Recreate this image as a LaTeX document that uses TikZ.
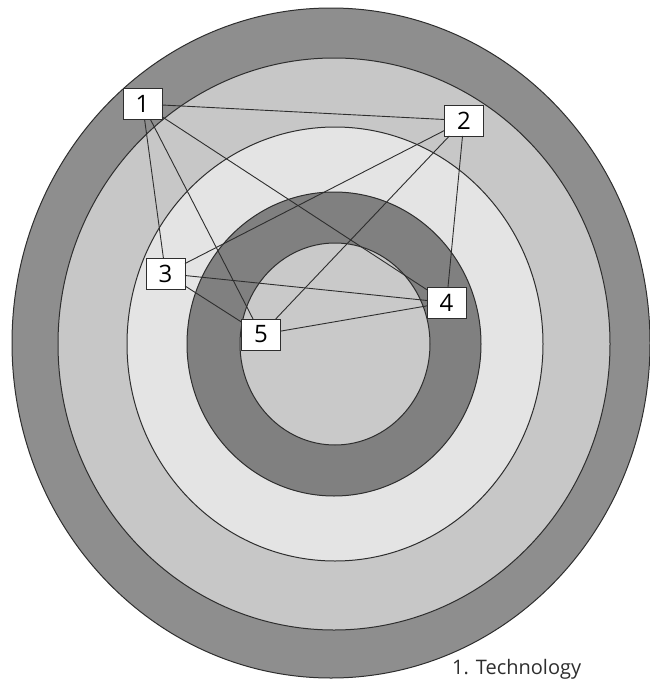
\documentclass[tikz,border=0pt]{standalone}
\usepackage{fontspec}
\setmainfont{Open Sans}
\usetikzlibrary{positioning}
\definecolor{Line}{HTML}{2E2E2E}
\definecolor{RingOuter}{HTML}{8E8E8E}
\definecolor{RingSoft}{HTML}{C7C7C7}
\definecolor{RingPale}{HTML}{E4E4E4}
\definecolor{RingDark}{HTML}{808080}
\definecolor{Core}{HTML}{C9C9C9}

\begin{document}
\begin{tikzpicture}[x=1pt,y=-1pt,
  ring/.style={draw=Line,line width=1pt},
  factor/.style={draw=Line,fill=white,line width=0.9pt,minimum width=39pt,minimum height=31pt,inner sep=0pt,outer sep=0pt,font=\fontsize{24}{26}\selectfont},
  link/.style={draw=Line,line width=0.9pt},
  caption/.style={inner sep=0pt,font=\fontsize{20}{24}\selectfont,text=Line}
]
\useasboundingbox (0,0) rectangle (650,680);
% rings, from the outside in
\draw[ring,fill=RingOuter] (331,343) ellipse [x radius=319pt, y radius=335pt];
\draw[ring,fill=RingSoft] (334,344) ellipse [x radius=276pt, y radius=286pt];
\draw[ring,fill=RingPale] (335,344) ellipse [x radius=208pt, y radius=217pt];
\draw[ring,fill=RingDark] (334,344) ellipse [x radius=147pt, y radius=152pt];
\draw[ring,fill=Core] (335,344) ellipse [x radius=95pt, y radius=101pt];
% factors
\node[factor] (n1) at (142.5,104) {1};
\node[factor] (n2) at (464,120.5) {2};
\node[factor] (n3) at (165.5,273.5) {3};
\node[factor] (n4) at (446.5,302.5) {4};
\node[factor] (n5) at (261,334.5) {5};
\foreach \a/\b in {n1/n2,n1/n3,n1/n4,n1/n5,n2/n3,n2/n4,n2/n5,n3/n4,n3/n5,n5/n4}
  \draw[link] (\a) -- (\b);
\node[caption,anchor=base west] (cap) at (452,674) {1. Technology};
\end{tikzpicture}
\end{document}
